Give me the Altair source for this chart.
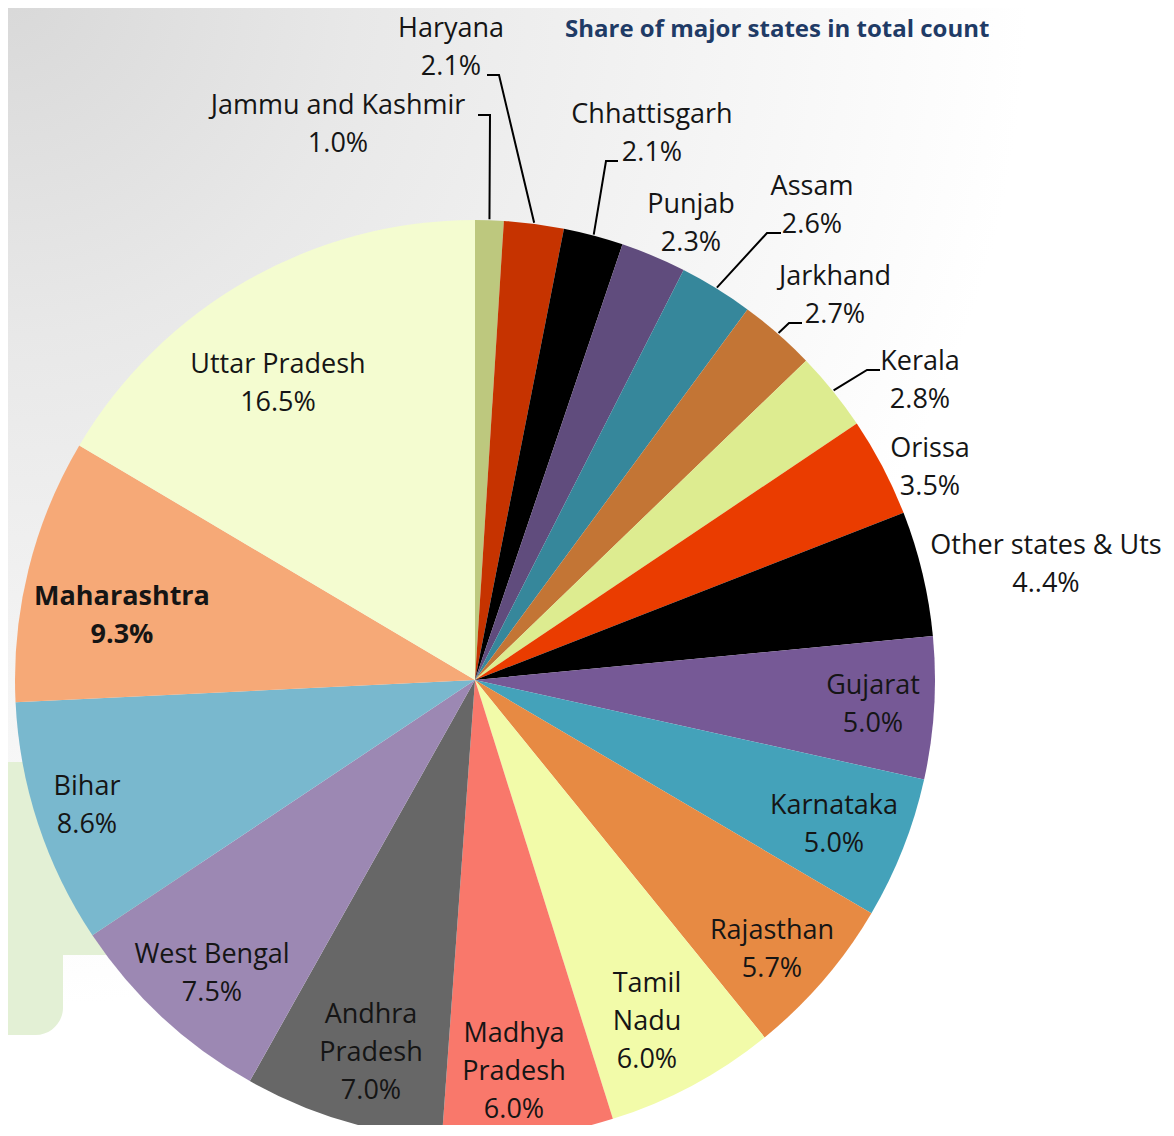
import math
import altair as alt
import pandas as pd

# ---------------- data ----------------
states = ["Jammu and Kashmir", "Haryana", "Chhattisgarh", "Punjab", "Assam",
          "Jarkhand", "Kerala", "Orissa", "Other states & Uts", "Gujarat",
          "Karnataka", "Rajasthan", "Tamil Nadu", "Madhya Pradesh",
          "Andhra Pradesh", "West Bengal", "Bihar", "Maharashtra", "Uttar Pradesh"]
shares = [1.0, 2.1, 2.1, 2.3, 2.6, 2.7, 2.8, 3.5, 4.4, 5.0, 5.0, 5.7, 6.0, 6.0,
          7.0, 7.5, 8.6, 9.3, 16.5]
pct_text = ["1.0%", "2.1%", "2.1%", "2.3%", "2.6%", "2.7%", "2.8%", "3.5%", "4..4%",
            "5.0%", "5.0%", "5.7%", "6.0%", "6.0%", "7.0%", "7.5%", "8.6%", "9.3%", "16.5%"]
name_lines = {"Tamil Nadu": ["Tamil", "Nadu"],
              "Madhya Pradesh": ["Madhya", "Pradesh"],
              "Andhra Pradesh": ["Andhra", "Pradesh"]}
colors = ["#BDC87E", "#C63300", "#000000", "#604C7D", "#36879B", "#C37535",
          "#DDEC90", "#EA3C00", "#000000", "#765996", "#44A2BA", "#E78A43",
          "#F2FBA9", "#F9786B", "#676767", "#9C88B3", "#79B8CE", "#F6A977", "#F4FCD0"]
bold_states = ["Maharashtra"]
title_text = "Share of major states in total count"

# ---------------- layout (page coordinates, page margin subtracted below) ----------------
M = 8
W, H = 1158, 1117
CX, CY, R = 475 - M, 680 - M, 460
LINE = 38
label_anchor = {  # centre x, first line centre y
    "Haryana": (451, 29), "Jammu and Kashmir": (338, 106), "Chhattisgarh": (652, 115),
    "Punjab": (691, 205), "Assam": (812, 187), "Jarkhand": (835, 277),
    "Kerala": (920, 362), "Orissa": (930, 449), "Other states & Uts": (1046, 546),
    "Gujarat": (873, 686), "Karnataka": (834, 806), "Rajasthan": (772, 931),
    "Tamil Nadu": (647, 984), "Madhya Pradesh": (514, 1034), "Andhra Pradesh": (371, 1015),
    "West Bengal": (212, 955), "Bihar": (87, 787), "Maharashtra": (122, 597),
    "Uttar Pradesh": (278, 365),
}
leader_pts = {  # label end, elbow ; the third point is on the slice edge
    "Jammu and Kashmir": [(478, 115), (490, 115)],
    "Haryana": [(487, 75), (499, 75)],
    "Chhattisgarh": [(618, 161), (606, 161)],
    "Assam": [(781, 233), (767, 233)],
    "Jarkhand": [(802, 323), (789, 323)],
    "Kerala": [(880, 370), (867, 370)],
}

# ---------------- tables ----------------
df = pd.DataFrame({"state": states, "share": shares, "idx": range(len(states))})

total = sum(shares)
cum = 0.0
mid = {}
for s, v in zip(states, shares):
    frac = (cum + v / 2) / total
    a = 2 * math.pi * frac
    mid[s] = (CX + (R + 1) * math.sin(a), CY - (R + 1) * math.cos(a))
    cum += v

text_rows = []
for s, p in zip(states, pct_text):
    lines = name_lines.get(s, [s]) + [p]
    ax, ay = label_anchor[s]
    for i, t in enumerate(lines):
        text_rows.append({"state": s, "t": t, "x": ax - M, "y": ay - M + i * LINE,
                          "bold": s in bold_states})
tdf = pd.DataFrame(text_rows)

lead_rows = []
for s, pts in leader_pts.items():
    for k, (px, py) in enumerate(pts):
        lead_rows.append({"state": s, "k": k, "x": px - M, "y": py - M})
    lead_rows.append({"state": s, "k": 2, "x": mid[s][0], "y": mid[s][1]})
ldf = pd.DataFrame(lead_rows)

one = pd.DataFrame({"a": [0]})

# ---------------- marks ----------------
bg = alt.Chart(one).mark_rect(
    fill={"gradient": "radial", "x1": 0, "y1": 0, "r1": 0, "x2": 0, "y2": 0, "r2": 1,
          "stops": [{"offset": 0, "color": "#D8D8D8"}, {"offset": 0.3, "color": "#E8E8E8"},
                    {"offset": 0.6, "color": "#F4F4F4"}, {"offset": 0.88, "color": "#FFFFFF"}]}
).encode(x=alt.value(0), x2=alt.value(W), y=alt.value(0), y2=alt.value(H))

green1 = alt.Chart(one).mark_rect(color="#E3F0D5").encode(
    x=alt.value(0), x2=alt.value(200 - M), y=alt.value(762 - M), y2=alt.value(955 - M))
green2 = alt.Chart(one).mark_rect(color="#E3F0D5", cornerRadiusBottomRight=55).encode(
    x=alt.value(0), x2=alt.value(63 - M), y=alt.value(930 - M), y2=alt.value(1035 - M))

pie = alt.Chart(df).mark_arc(outerRadius=R, innerRadius=0, stroke=None).encode(
    theta=alt.Theta("share:Q", stack=True),
    color=alt.Color("state:N", scale=alt.Scale(domain=states, range=colors), legend=None),
    order=alt.Order("idx:Q", sort="ascending"),
    x=alt.value(CX), y=alt.value(CY),
)

leaders = alt.Chart(ldf).mark_line(color="#000000", strokeWidth=2).encode(
    x=alt.X("x:Q", scale=None), y=alt.Y("y:Q", scale=None),
    detail="state:N", order="k:Q")

def text_layer(bold):
    return alt.Chart(tdf).transform_filter(
        alt.datum.bold if bold else ~alt.datum.bold
    ).mark_text(font="Open Sans", fontSize=27, align="center", baseline="middle",
                color="#151515", fontWeight="bold" if bold else "normal").encode(
        x=alt.X("x:Q", scale=None), y=alt.Y("y:Q", scale=None), text="t:N")

title = alt.Chart(one).mark_text(
    text=title_text, font="Open Sans", fontSize=24, fontWeight="bold", color="#1F3B66",
    align="left", baseline="middle").encode(x=alt.value(565 - M), y=alt.value(30 - M))

chart = alt.layer(bg, green1, green2, pie, leaders, text_layer(False), text_layer(True), title
).properties(
    width=W, height=H, autosize=alt.AutoSizeParams(type="none"), padding=0,
    background="white"
).configure_view(stroke=None)

chart.save("out.html", embed_options={"renderer": "svg", "actions": False})
